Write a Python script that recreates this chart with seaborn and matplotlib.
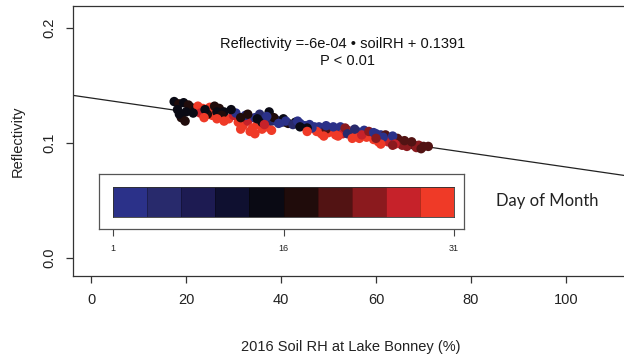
import numpy as np
import pandas as pd
import matplotlib
matplotlib.use("Agg")
import matplotlib.pyplot as plt
from matplotlib.colors import ListedColormap
import seaborn as sns

# Soil relative humidity (%), reflectivity and day of month for each observation
soil_rh = [
    17.5, 18.5, 19.5, 18.2, 19.0, 18.6, 20.5, 21.0, 22.0, 20.0,
    22.5, 23.5, 24.0, 23.0, 25.0, 25.5, 26.0, 27.0, 26.5, 24.5,
    29.0, 31.0, 32.0, 33.0, 34.0, 35.0, 36.0, 37.0, 30.0, 33.5,
    30.5, 32.5, 34.5, 36.5, 38.0, 39.0, 40.0, 35.5,
    28.0, 29.5, 31.5, 33.0, 37.5, 38.5, 36.0, 40.5, 41.5, 43.0,
    44.0, 45.0, 46.0, 47.0,
    48.0, 49.0, 50.0, 51.0, 52.0, 53.0, 54.0, 55.0, 56.0, 57.0,
    58.0, 59.0, 60.0, 61.0, 62.0, 63.0, 64.0, 52.5, 57.5,
    47.5, 48.5, 50.0, 51.5, 53.0, 54.5, 55.5, 56.5, 58.0, 59.5,
    60.5, 61.5, 62.5, 63.5, 57.0,
    49.5, 53.5, 58.5, 62.0, 64.5,
    65.0, 66.0, 67.0, 68.0, 69.0, 70.0, 71.0, 66.5, 68.5, 67.5, 65.5, 63.0,
    37.0, 39.5, 41.0, 42.5, 43.5, 46.5, 49.5, 51.0, 55.5, 59.5, 61.5, 63.5, 54.0, 60.0,
    44.0, 45.5, 27.5, 24.0, 21.5, 19.8, 35.0,
    23.8, 26.5, 28.0, 31.5, 34.5, 38.0, 36.5, 52.0, 55.0, 61.0, 64.0, 49.0, 45.5,
    63.5, 69.5, 66.0, 60.0,
]
reflectivity = [
    0.136, 0.134, 0.135, 0.129, 0.122, 0.125, 0.133, 0.131, 0.129, 0.127,
    0.132, 0.130, 0.127, 0.126, 0.131, 0.124, 0.132, 0.130, 0.127, 0.125,
    0.121, 0.118, 0.115, 0.119, 0.113, 0.116, 0.112, 0.114, 0.124, 0.110,
    0.126, 0.124, 0.122, 0.121, 0.119, 0.120, 0.118, 0.125,
    0.127, 0.129, 0.122, 0.125, 0.127, 0.122, 0.118, 0.121, 0.117, 0.118,
    0.117, 0.115, 0.116, 0.114,
    0.114, 0.112, 0.113, 0.111, 0.112, 0.110, 0.111, 0.109, 0.110, 0.108,
    0.109, 0.107, 0.106, 0.107, 0.105, 0.104, 0.103, 0.114, 0.111,
    0.110, 0.108, 0.109, 0.107, 0.108, 0.110, 0.106, 0.104, 0.105, 0.103,
    0.101, 0.103, 0.101, 0.100, 0.107,
    0.112, 0.113, 0.110, 0.107, 0.104,
    0.102, 0.100, 0.099, 0.098, 0.098, 0.097, 0.097, 0.097, 0.096, 0.101, 0.098, 0.102,
    0.123, 0.117, 0.119, 0.116, 0.119, 0.113, 0.115, 0.114, 0.112, 0.109, 0.105, 0.106, 0.108, 0.108,
    0.114, 0.113, 0.124, 0.129, 0.126, 0.119, 0.121,
    0.122, 0.121, 0.119, 0.112, 0.108, 0.111, 0.116, 0.106, 0.104, 0.099, 0.099, 0.106, 0.110,
    0.098, 0.095, 0.102, 0.104,
]
day = [
    15, 16, 14, 15, 16, 15, 17, 16, 15, 14,
    29, 28, 30, 27, 29, 31, 16, 17, 15, 18,
    28, 29, 30, 27, 31, 29, 30, 28, 26, 31,
    2, 3, 1, 2, 4, 3, 2, 4,
    14, 15, 16, 17, 15, 16, 14, 15, 16, 14,
    3, 2, 1, 3,
    2, 1, 3, 2, 4, 1, 2, 3, 2, 1,
    3, 2, 4, 1, 3, 2, 4, 3, 2,
    29, 30, 28, 31, 27, 29, 30, 28, 31, 29,
    30, 26, 27, 28, 26,
    20, 22, 24, 21, 19,
    21, 22, 20, 21, 22, 20, 21, 23, 22, 19, 24, 25,
    1, 2, 1, 4, 2, 1, 3, 1, 4, 1, 2, 3, 4, 2,
    15, 14, 16, 15, 14, 16, 13,
    30, 29, 31, 30, 28, 29, 27, 30, 31, 28, 27, 29, 30,
    22, 21, 20, 23,
]

# Fitted model shown on the chart
slope = -6e-04
intercept = 0.1391

# Ten-step blue-black-red ramp over days 1..31
day_colors = ["#2b3189", "#282a6c", "#1d1b52", "#0f1030", "#0a0a14",
              "#200c0b", "#521313", "#8b1a1e", "#c6222a", "#ef3a27"]
day_ticks = [1, 16, 31]

df = pd.DataFrame({"soil_rh": soil_rh, "reflectivity": reflectivity, "day": day})
edges = np.linspace(1, 31, len(day_colors) + 1)
df["bin"] = np.clip(np.digitize(df["day"], edges) - 1, 0, len(day_colors) - 1)

sns.set_style("ticks")
plt.rcParams["font.family"] = ["Liberation Sans", "DejaVu Sans"]

W, H = 624, 359
fig = plt.figure(figsize=(W / 100, H / 100), dpi=100)

def px_rect(x0, y0, x1, y1):
    return [x0 / W, 1 - y1 / H, (x1 - x0) / W, (y1 - y0) / H]

# Main plot area (right edge falls just outside the figure)
xmin, xmax = -3.8, 113.0
ax = fig.add_axes(px_rect(73, 6, 91 + xmax * 4.75, 276))
ax.set_xlim(xmin, xmax)
ax.set_ylim(-0.0157, 0.2191)

ax.axline((0, intercept), slope=slope, color="#222222", lw=0.9, zorder=1)

palette = {i: c for i, c in enumerate(day_colors)}
sns.scatterplot(data=df, x="soil_rh", y="reflectivity", hue="bin", palette=palette,
                s=46, linewidth=0, alpha=1, legend=False, ax=ax, zorder=2)

ax.set_xticks([0, 20, 40, 60, 80, 100])
ax.set_yticks([0.0, 0.1, 0.2])
ax.set_yticklabels(["0.0", "0.1", "0.2"], rotation=90, va="center")
ax.tick_params(axis="both", direction="out", length=5, width=0.9, labelsize=10.5,
               color="#333333", labelcolor="#222222")
ax.tick_params(axis="x", pad=7)
ax.tick_params(axis="y", pad=7)
for s in ax.spines.values():
    s.set_color("#333333")
    s.set_linewidth(0.9)
ax.set_xlabel("2016 Soil RH at Lake Bonney (%)", fontsize=10.5, color="#222222", labelpad=24)
ax.set_ylabel("Reflectivity", fontsize=10.5, color="#222222", labelpad=13)

ax.text(53.0, 0.186, "Reflectivity =-6e-04 \u2022 soilRH + 0.1391", ha="center", va="center",
        fontsize=10.5, color="#111111")
ax.text(54.0, 0.1715, "P < 0.01", ha="center", va="center", fontsize=10.5, color="#111111")

# Day-of-month colour key
box = fig.add_axes(px_rect(99, 174, 464, 229))
box.set_facecolor("white")
ppu = (454 - 113) / 30
box.set_xlim(1 - 14 / ppu, 31 + 10 / ppu)
box.set_ylim(0, 1)
box.set_yticks([])
box.set_xticks(day_ticks)
box.tick_params(axis="x", direction="out", length=5, width=0.8, labelsize=6.5,
                pad=6, color="#444444", labelcolor="#222222")
for s in box.spines.values():
    s.set_color("#555555")
    s.set_linewidth(0.9)

key = fig.add_axes(px_rect(113, 187, 454, 217))
sns.heatmap(np.arange(len(day_colors)).reshape(1, -1), cmap=ListedColormap(day_colors),
            cbar=False, linewidths=0.4, linecolor="#00000040", ax=key,
            xticklabels=False, yticklabels=False)
for s in key.spines.values():
    s.set_visible(True)
    s.set_color("#333333")
    s.set_linewidth(0.6)

fig.text(496 / W, 1 - 201 / H, "Day of Month", fontsize=12, va="center", ha="left",
         color="#222222", family=["Lato", "DejaVu Sans"])

fig.savefig("out.png", dpi=100)
